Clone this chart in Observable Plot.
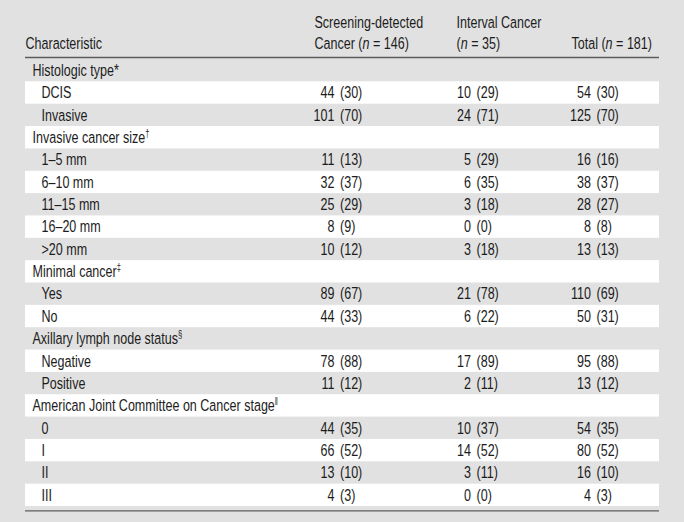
<!DOCTYPE html>
<html>
<head>
<meta charset="utf-8">
<script src="https://cdn.jsdelivr.net/npm/d3@7"></script>
<script src="https://cdn.jsdelivr.net/npm/@observablehq/plot@0.6"></script>
<style>
  html, body { margin: 0; padding: 0; background: #e1e1e1; }
  #chart svg { display: block; }
</style>
</head>
<body>
<div id="chart"></div>
<script>
// ---- Data ----
const rowLabels = ["Histologic type", "DCIS", "Invasive", "Invasive cancer size", "1–5 mm", "6–10 mm", "11–15 mm", "16–20 mm", ">20 mm", "Minimal cancer", "Yes", "No", "Axillary lymph node status", "Negative", "Positive", "American Joint Committee on Cancer stage", "0", "I", "II", "III"];
const rowFootnotes = ["*", "", "", "†", "", "", "", "", "", "‡", "", "", "§", "", "", "‖", "", "", "", ""];
const rowIsGroup = [true, false, false, true, false, false, false, false, false, true, false, false, true, false, false, true, false, false, false, false];
const screenCount   = [null, 44, 101, null, 11, 32, 25, 8, 10, null, 89, 44, null, 78, 11, null, 44, 66, 13, 4];
const screenPct     = [null, 30, 70, null, 13, 37, 29, 9, 12, null, 67, 33, null, 88, 12, null, 35, 52, 10, 3];
const intervalCount = [null, 10, 24, null, 5, 6, 3, 0, 3, null, 21, 6, null, 17, 2, null, 10, 14, 3, 0];
const intervalPct   = [null, 29, 71, null, 29, 35, 18, 0, 18, null, 78, 22, null, 89, 11, null, 37, 52, 11, 0];
const totalCount    = [null, 54, 125, null, 16, 38, 28, 8, 13, null, 110, 50, null, 95, 13, null, 54, 80, 16, 4];
const totalPct      = [null, 30, 70, null, 16, 37, 27, 8, 13, null, 69, 31, null, 88, 12, null, 35, 52, 10, 3];
const headerLine1 = ["", "Screening-detected", "Interval Cancer", ""];
const headerLine2 = ["Characteristic", "Cancer (n = 146)", "(n = 35)", "Total (n = 181)"];

// ---- Layout (not data) ----
const L = {
  width: 684, height: 522,
  tableLeft: 25, tableRight: 659,
  groupX: 32, itemX: 41,
  headerX: [25, 314, 456, 571],
  anchors: [334, 470.5, 590.5],
  pctGap: 5.5,
  rowsTop: 59, rowsBottom: 506,
  header1Row: -1.65, header2Row: -0.72,
  topRuleRow: -0.09, bottomRuleRow: 20.2,
  condense: 0.76
};
const FONT = "'Liberation Sans', Arial, Helvetica, sans-serif";

const rows = rowLabels.map((label, i) => ({
  i, label, foot: rowFootnotes[i], group: rowIsGroup[i],
  counts: [screenCount[i], intervalCount[i], totalCount[i]],
  pcts: [screenPct[i], intervalPct[i], totalPct[i]]
}));
const headers = headerLine2.map((t, c) => ({c, l1: headerLine1[c], l2: t}));

const valueMarks = [0, 1, 2].flatMap(c => {
  const data = rows.filter(d => d.counts[c] != null);
  return [
    Plot.text(data, {x: () => L.anchors[c], y: d => d.i + 0.5, text: d => String(d.counts[c]), textAnchor: "end"}),
    Plot.text(data, {x: () => L.anchors[c] + L.pctGap, y: d => d.i + 0.5, text: d => `(${d.pcts[c]})`, textAnchor: "start"})
  ];
});

const chart = Plot.plot({
  width: L.width, height: L.height,
  margin: 0,
  x: {domain: [0, L.width], range: [0, L.width], axis: null},
  y: {domain: [0, rows.length], range: [L.rowsTop, L.rowsBottom], axis: null},
  style: {fontFamily: FONT, fontSize: "16.5px", background: "#e1e1e1", color: "#1c1c1c", overflow: "visible"},
  marks: [
    Plot.rect(rows.filter(d => d.i % 2 === 1), {x1: () => L.tableLeft, x2: () => L.tableRight, y1: "i", y2: d => d.i + 1, fill: "white"}),
    Plot.ruleY([L.topRuleRow, L.bottomRuleRow], {x1: L.tableLeft, x2: L.tableRight, stroke: "#5c5c5c", strokeWidth: 1.3}),
    Plot.text(headers.filter(d => d.l1), {x: d => L.headerX[d.c], y: () => L.header1Row, text: "l1", textAnchor: "start"}),
    Plot.text(headers, {x: d => L.headerX[d.c], y: () => L.header2Row, text: "l2", textAnchor: "start", className: "hdr2"}),
    Plot.text(rows, {x: d => d.group ? L.groupX : L.itemX, y: d => d.i + 0.5, text: "label", textAnchor: "start", className: "rowlabels"}),
    ...valueMarks
  ]
});

// italic n in headers
d3.select(chart).selectAll("g.hdr2 text").each(function() {
  const t = this.textContent;
  const m = t.match(/^(.*\()n( = .*)$/);
  if (!m) return;
  const sel = d3.select(this);
  sel.text(null);
  sel.append("tspan").text(m[1]);
  sel.append("tspan").attr("font-style", "italic").text("n");
  sel.append("tspan").text(m[2]);
});
// footnote marks
d3.select(chart).selectAll("g.rowlabels text").each(function(_, j) {
  const f = rows[j].foot;
  if (!f) return;
  if (f === "*") { d3.select(this).append("tspan").text("*"); return; }
  d3.select(this).append("tspan").attr("font-size", "10px").attr("dy", "-6").text(f);
});
// condensed type: narrow each text horizontally around its anchor point
d3.select(chart).selectAll("text").each(function() {
  const tr = this.getAttribute("transform");
  if (tr) this.setAttribute("transform", `${tr} scale(${L.condense},1)`);
});

document.getElementById("chart").appendChild(chart);
</script>
</body>
</html>
